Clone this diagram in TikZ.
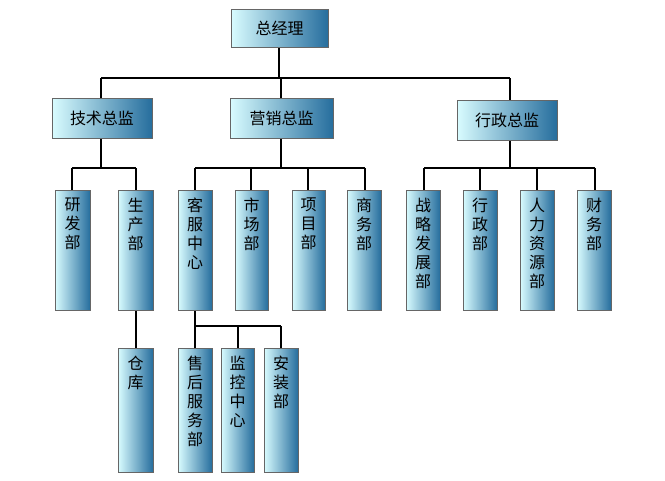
\documentclass[tikz,border=0pt]{standalone}
\usepackage{fontspec}
\setmainfont{Noto Sans CJK SC}
\usetikzlibrary{positioning}
\begin{document}
\begin{tikzpicture}[x=1pt,y=-1pt,
  bx/.style={draw=black!60,line width=0.6pt,left color=blue!8!cyan!15,right color=blue!40!cyan!55!black!85,shading angle=90},
  lbl/.style={font=\fontsize{16}{19}\selectfont,align=center,inner sep=0pt},
  ln/.style={line width=1.2pt,black}]
\useasboundingbox (0,0) rectangle (665,480);
% level 1 & 2 boxes
\newcommand\hb[6]{\path[bx] (#2,#3) rectangle (#4,#5) coordinate (#1b); \node[lbl] (#1) at ({(#2+#4)/2},{(#3+#5)/2}) {#6};}
\newcommand\vb[6]{\path[bx] (#2,#3) rectangle (#4,#5); \node[lbl,anchor=north] (#1) at ({(#2+#4)/2},{#3+8}) {#6};}
% connectors first
\coordinate (top) at (279,47);
\draw[ln] (279,47) -- (279,78) (101,78) -- (510,78) (101,78) -- (101,98) (281,78) -- (281,98) (510,78) -- (510,100);
\draw[ln] (101,138) -- (101,168) (72,168) -- (136,168) (72,168) -- (72,190) (136,168) -- (136,190);
\draw[ln] (281,138) -- (281,168) (195,168) -- (365,168);
\foreach \x in {195,251,308,365} \draw[ln] (\x,168) -- (\x,190);
\draw[ln] (510,140) -- (510,168) (424,168) -- (595,168);
\foreach \x in {424,480,537,595} \draw[ln] (\x,168) -- (\x,190);
\draw[ln] (136,310) -- (136,348);
\draw[ln] (195,310) -- (195,348) (195,326) -- (281,326) (238,326) -- (238,348) (281,326) -- (281,348);
\hb{zjl}{231}{9}{328}{47}{总经理}
\hb{js}{52}{98}{152}{138}{技术总监}
\hb{yx}{230}{98}{333}{138}{营销总监}
\hb{xz}{457}{100}{557}{140}{行政总监}
\vb{yf}{55}{190}{90}{310}{研\\发\\部}
\vb{sc}{118}{190}{153}{310}{生\\产\\部}
\vb{kf}{178}{190}{212}{310}{客\\服\\中\\心}
\vb{scb}{235}{190}{268}{310}{市\\场\\部}
\vb{xm}{292}{190}{325}{310}{项\\目\\部}
\vb{sw}{347}{190}{381}{310}{商\\务\\部}
\vb{zl}{406}{190}{440}{310}{战\\略\\发\\展\\部}
\vb{xzb}{463}{190}{497}{310}{行\\政\\部}
\vb{rl}{520}{190}{554}{310}{人\\力\\资\\源\\部}
\vb{cw}{577}{190}{611}{310}{财\\务\\部}
\vb{ck}{118}{348}{153}{472}{仓\\库}
\vb{sh}{178}{348}{212}{472}{售\\后\\服\\务\\部}
\vb{jk}{221}{348}{254}{472}{监\\控\\中\\心}
\vb{az}{264}{348}{298}{472}{安\\装\\部}
\end{tikzpicture}
\end{document}
